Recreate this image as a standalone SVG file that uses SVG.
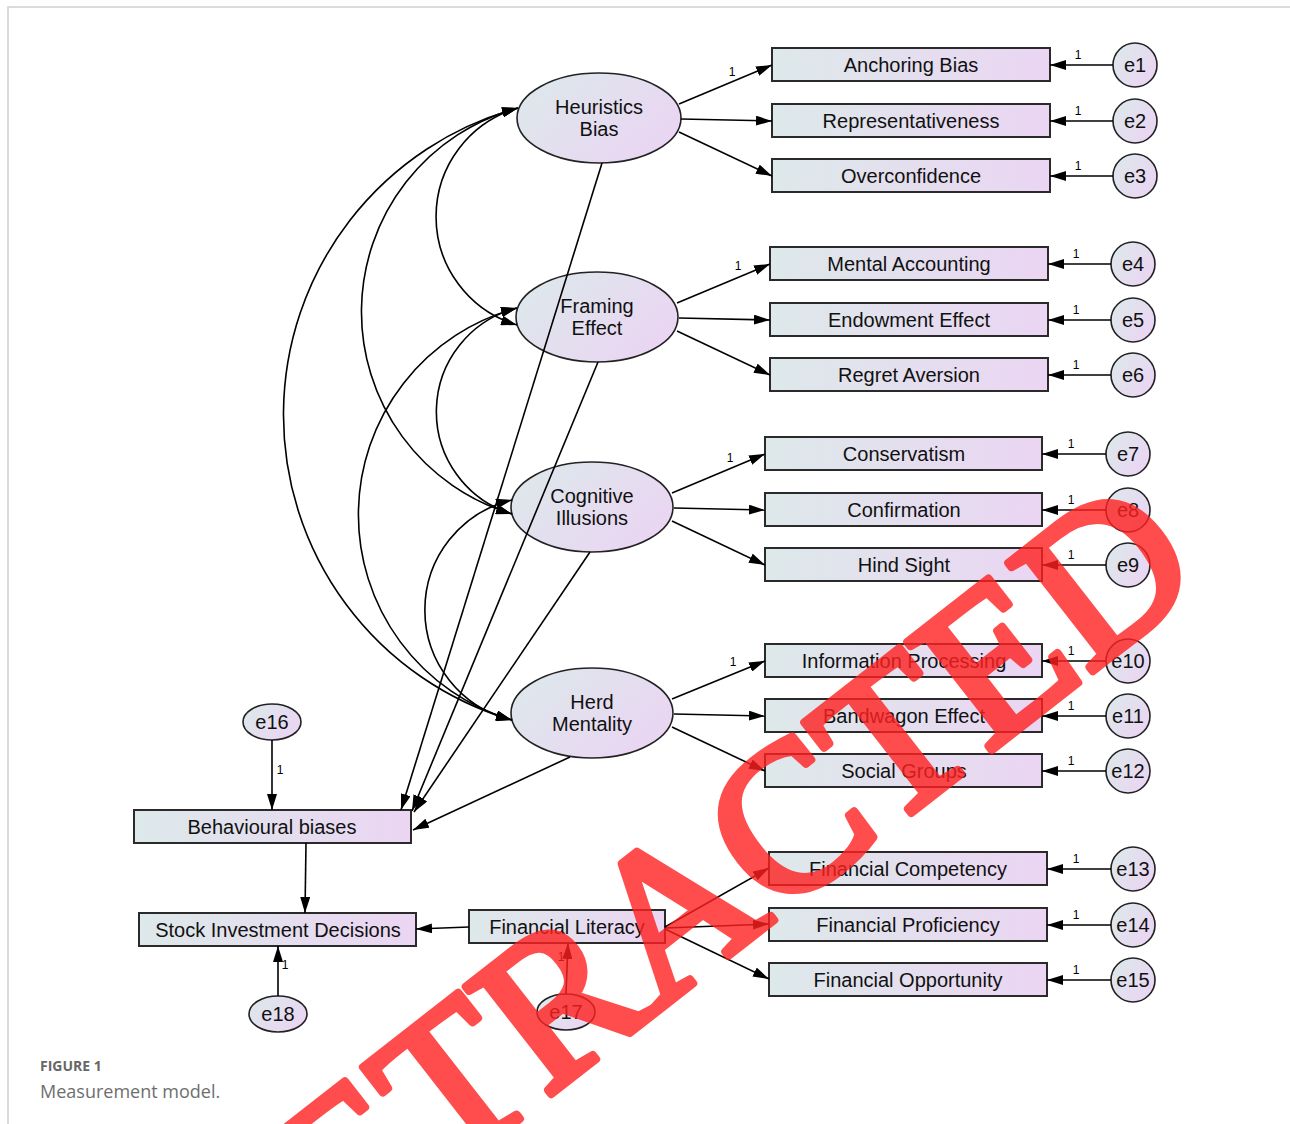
<svg xmlns="http://www.w3.org/2000/svg" width="1290" height="1124" viewBox="0 0 1290 1124">
<defs>
<linearGradient id="gBox" x1="0" y1="0" x2="1" y2="0">
<stop offset="0" stop-color="#dde9ea"/>
<stop offset="1" stop-color="#ebd5f3"/>
</linearGradient>
<linearGradient id="gEll" x1="0" y1="0.2" x2="1" y2="0.8">
<stop offset="0" stop-color="#dde8eb"/>
<stop offset="1" stop-color="#ebd4f3"/>
</linearGradient>
<marker id="ah" viewBox="0 0 16 10" refX="16" refY="5" markerWidth="16" markerHeight="10" markerUnits="userSpaceOnUse" orient="auto-start-reverse">
<path d="M0,0 L16,5 L0,10 z" fill="#000"/>
</marker>
<style>
.box{fill:url(#gBox);stroke:#2a2a2a;stroke-width:2}
.ell{fill:url(#gEll);stroke:#222;stroke-width:1.6}
.lbl{font-family:"Liberation Sans",Arial,sans-serif;font-size:20px;fill:#111;text-anchor:middle}
.one{font-family:"Liberation Sans",Arial,sans-serif;font-size:12px;fill:#000;text-anchor:middle}
.ar{fill:none;stroke:#000;stroke-width:1.6;marker-end:url(#ah)}
.cov{fill:none;stroke:#000;stroke-width:1.6;marker-start:url(#ah);marker-end:url(#ah)}
</style>
</defs>
<rect width="1290" height="1124" fill="#fff"/>
<path d="M8,1124 V7 H1290" fill="none" stroke="#cfcfcf" stroke-width="1.5"/>

<g id="heuristics-bias"><ellipse class="ell" cx="599" cy="118" rx="82" ry="45"/><text class="lbl" x="599" y="114">Heuristics</text><text class="lbl" x="599" y="136">Bias</text></g>
<g id="framing-effect"><ellipse class="ell" cx="597" cy="317" rx="81" ry="45"/><text class="lbl" x="597" y="313">Framing</text><text class="lbl" x="597" y="335">Effect</text></g>
<g id="cognitive-illusions"><ellipse class="ell" cx="592" cy="507" rx="81" ry="45"/><text class="lbl" x="592" y="503">Cognitive</text><text class="lbl" x="592" y="525">Illusions</text></g>
<g id="herd-mentality"><ellipse class="ell" cx="592" cy="713" rx="81" ry="45"/><text class="lbl" x="592" y="709">Herd</text><text class="lbl" x="592" y="731">Mentality</text></g>

<g id="anchoring-bias"><rect class="box" x="772" y="48" width="278" height="33"/><text class="lbl" x="911" y="72">Anchoring Bias</text></g>
<g id="representativeness"><rect class="box" x="772" y="104" width="278" height="33"/><text class="lbl" x="911" y="128">Representativeness</text></g>
<g id="overconfidence"><rect class="box" x="772" y="159" width="278" height="33"/><text class="lbl" x="911" y="183">Overconfidence</text></g>
<g id="mental-accounting"><rect class="box" x="770" y="247" width="278" height="33"/><text class="lbl" x="909" y="271">Mental Accounting</text></g>
<g id="endowment-effect"><rect class="box" x="770" y="303" width="278" height="33"/><text class="lbl" x="909" y="327">Endowment Effect</text></g>
<g id="regret-aversion"><rect class="box" x="770" y="358" width="278" height="33"/><text class="lbl" x="909" y="382">Regret Aversion</text></g>
<g id="conservatism"><rect class="box" x="765" y="437" width="277" height="33"/><text class="lbl" x="904" y="461">Conservatism</text></g>
<g id="confirmation"><rect class="box" x="765" y="493" width="277" height="33"/><text class="lbl" x="904" y="517">Confirmation</text></g>
<g id="hind-sight"><rect class="box" x="765" y="548" width="277" height="33"/><text class="lbl" x="904" y="572">Hind Sight</text></g>
<g id="information-processing"><rect class="box" x="765" y="644" width="277" height="33"/><text class="lbl" x="904" y="668">Information Processing</text></g>
<g id="bandwagon-effect"><rect class="box" x="765" y="699" width="277" height="33"/><text class="lbl" x="904" y="723">Bandwagon Effect</text></g>
<g id="social-groups"><rect class="box" x="765" y="754" width="277" height="33"/><text class="lbl" x="904" y="778">Social Groups</text></g>
<g id="financial-competency"><rect class="box" x="769" y="852" width="278" height="33"/><text class="lbl" x="908" y="876">Financial Competency</text></g>
<g id="financial-proficiency"><rect class="box" x="769" y="908" width="278" height="33"/><text class="lbl" x="908" y="932">Financial Proficiency</text></g>
<g id="financial-opportunity"><rect class="box" x="769" y="963" width="278" height="33"/><text class="lbl" x="908" y="987">Financial Opportunity</text></g>

<g id="behavioural-biases"><rect class="box" x="134" y="810" width="277" height="33"/><text class="lbl" x="272" y="834">Behavioural biases</text></g>
<g id="stock-investment-decisions"><rect class="box" x="139" y="913" width="277" height="33"/><text class="lbl" x="278" y="937">Stock Investment Decisions</text></g>
<g id="financial-literacy"><rect class="box" x="469" y="910" width="196" height="33"/><text class="lbl" x="567" y="934">Financial Literacy</text></g>

<g id="e1"><circle class="ell" cx="1135" cy="65" r="22"/><text class="lbl" x="1135" y="72">e1</text></g>
<g id="e2"><circle class="ell" cx="1135" cy="121" r="22"/><text class="lbl" x="1135" y="128">e2</text></g>
<g id="e3"><circle class="ell" cx="1135" cy="176" r="22"/><text class="lbl" x="1135" y="183">e3</text></g>
<g id="e4"><circle class="ell" cx="1133" cy="264" r="22"/><text class="lbl" x="1133" y="271">e4</text></g>
<g id="e5"><circle class="ell" cx="1133" cy="320" r="22"/><text class="lbl" x="1133" y="327">e5</text></g>
<g id="e6"><circle class="ell" cx="1133" cy="375" r="22"/><text class="lbl" x="1133" y="382">e6</text></g>
<g id="e7"><circle class="ell" cx="1128" cy="454" r="22"/><text class="lbl" x="1128" y="461">e7</text></g>
<g id="e8"><circle class="ell" cx="1128" cy="510" r="22"/><text class="lbl" x="1128" y="517">e8</text></g>
<g id="e9"><circle class="ell" cx="1128" cy="565" r="22"/><text class="lbl" x="1128" y="572">e9</text></g>
<g id="e10"><circle class="ell" cx="1128" cy="661" r="22"/><text class="lbl" x="1128" y="668">e10</text></g>
<g id="e11"><circle class="ell" cx="1128" cy="716" r="22"/><text class="lbl" x="1128" y="723">e11</text></g>
<g id="e12"><circle class="ell" cx="1128" cy="771" r="22"/><text class="lbl" x="1128" y="778">e12</text></g>
<g id="e13"><circle class="ell" cx="1133" cy="869" r="22"/><text class="lbl" x="1133" y="876">e13</text></g>
<g id="e14"><circle class="ell" cx="1133" cy="925" r="22"/><text class="lbl" x="1133" y="932">e14</text></g>
<g id="e15"><circle class="ell" cx="1133" cy="980" r="22"/><text class="lbl" x="1133" y="987">e15</text></g>
<g id="e16"><ellipse class="ell" cx="272" cy="722" rx="29" ry="18"/><text class="lbl" x="272" y="729">e16</text></g>
<g id="e17"><ellipse class="ell" cx="566" cy="1012" rx="29" ry="18"/><text class="lbl" x="566" y="1019">e17</text></g>
<g id="e18"><ellipse class="ell" cx="278" cy="1014" rx="29" ry="18"/><text class="lbl" x="278" y="1021">e18</text></g>

<g id="connectors">
<path class="cov" d="M518,108 A113,113 0 0 0 517,325"/>
<path class="cov" d="M518,108 A211,211 0 0 0 512,514"/>
<path class="cov" d="M518,108 A318,318 0 0 0 512,720"/>
<path class="cov" d="M517,308 A107,107 0 0 0 512,514"/>
<path class="cov" d="M517,308 A214,214 0 0 0 512,720"/>
<path class="cov" d="M512,500 A113,113 0 0 0 512,720"/>

<line class="ar" x1="679" y1="104" x2="772" y2="65"/>
<line class="ar" x1="681" y1="119" x2="772" y2="121"/>
<line class="ar" x1="679" y1="132" x2="772" y2="176"/>
<line class="ar" x1="677" y1="303" x2="770" y2="264"/>
<line class="ar" x1="679" y1="318" x2="770" y2="320"/>
<line class="ar" x1="677" y1="331" x2="770" y2="375"/>
<line class="ar" x1="672" y1="493" x2="765" y2="454"/>
<line class="ar" x1="674" y1="508" x2="765" y2="510"/>
<line class="ar" x1="672" y1="521" x2="765" y2="565"/>
<line class="ar" x1="672" y1="699" x2="765" y2="661"/>
<line class="ar" x1="674" y1="714" x2="765" y2="716"/>
<line class="ar" x1="672" y1="727" x2="765" y2="771"/>

<line class="ar" x1="602" y1="163" x2="401" y2="810"/>
<line class="ar" x1="598" y1="362" x2="412" y2="811"/>
<line class="ar" x1="590" y1="552" x2="414" y2="812"/>
<line class="ar" x1="570" y1="757" x2="413" y2="830"/>

<line class="ar" x1="272" y1="740" x2="272" y2="810"/>
<line class="ar" x1="306" y1="843" x2="305" y2="913"/>
<line class="ar" x1="278" y1="996" x2="278" y2="946"/>
<line class="ar" x1="469" y1="927" x2="416" y2="929"/>
<line class="ar" x1="566" y1="994" x2="568" y2="943"/>
<line class="ar" x1="665" y1="927" x2="769" y2="868"/>
<line class="ar" x1="665" y1="928" x2="769" y2="924"/>
<line class="ar" x1="665" y1="929" x2="769" y2="979"/>

<line class="ar" x1="1113" y1="65" x2="1050" y2="65"/>
<line class="ar" x1="1113" y1="121" x2="1050" y2="121"/>
<line class="ar" x1="1113" y1="176" x2="1050" y2="176"/>
<line class="ar" x1="1111" y1="264" x2="1048" y2="264"/>
<line class="ar" x1="1111" y1="320" x2="1048" y2="320"/>
<line class="ar" x1="1111" y1="375" x2="1048" y2="375"/>
<line class="ar" x1="1106" y1="454" x2="1042" y2="454"/>
<line class="ar" x1="1106" y1="510" x2="1042" y2="510"/>
<line class="ar" x1="1106" y1="565" x2="1042" y2="565"/>
<line class="ar" x1="1106" y1="661" x2="1042" y2="661"/>
<line class="ar" x1="1106" y1="716" x2="1042" y2="716"/>
<line class="ar" x1="1106" y1="771" x2="1042" y2="771"/>
<line class="ar" x1="1111" y1="869" x2="1047" y2="869"/>
<line class="ar" x1="1111" y1="925" x2="1047" y2="925"/>
<line class="ar" x1="1111" y1="980" x2="1047" y2="980"/>

<text class="one" x="732" y="76">1</text>
<text class="one" x="738" y="270">1</text>
<text class="one" x="730" y="462">1</text>
<text class="one" x="733" y="666">1</text>
<text class="one" x="1078" y="59">1</text>
<text class="one" x="1078" y="115">1</text>
<text class="one" x="1078" y="170">1</text>
<text class="one" x="1076" y="258">1</text>
<text class="one" x="1076" y="314">1</text>
<text class="one" x="1076" y="369">1</text>
<text class="one" x="1071" y="448">1</text>
<text class="one" x="1071" y="504">1</text>
<text class="one" x="1071" y="559">1</text>
<text class="one" x="1071" y="655">1</text>
<text class="one" x="1071" y="710">1</text>
<text class="one" x="1071" y="765">1</text>
<text class="one" x="1076" y="863">1</text>
<text class="one" x="1076" y="919">1</text>
<text class="one" x="1076" y="974">1</text>
<text class="one" x="280" y="774">1</text>
<text class="one" x="285" y="969">1</text>
<text class="one" x="561" y="961">1</text>
</g>

<g id="caption">
<text x="40" y="1071" font-family="'Open Sans',Lato,sans-serif" font-size="14" font-weight="bold" fill="#666">FIGURE 1</text>
<text x="40" y="1098" font-family="'Open Sans',Lato,sans-serif" font-size="18" fill="#6e6e6e">Measurement model.</text>
</g>

<text transform="translate(233,1343) rotate(-38)" font-family="'Liberation Serif','Times New Roman',serif" font-size="210" fill="#ff2020" stroke="#ff2020" stroke-width="8" stroke-linejoin="round" opacity="0.8">RETRACTED</text>
</svg>
